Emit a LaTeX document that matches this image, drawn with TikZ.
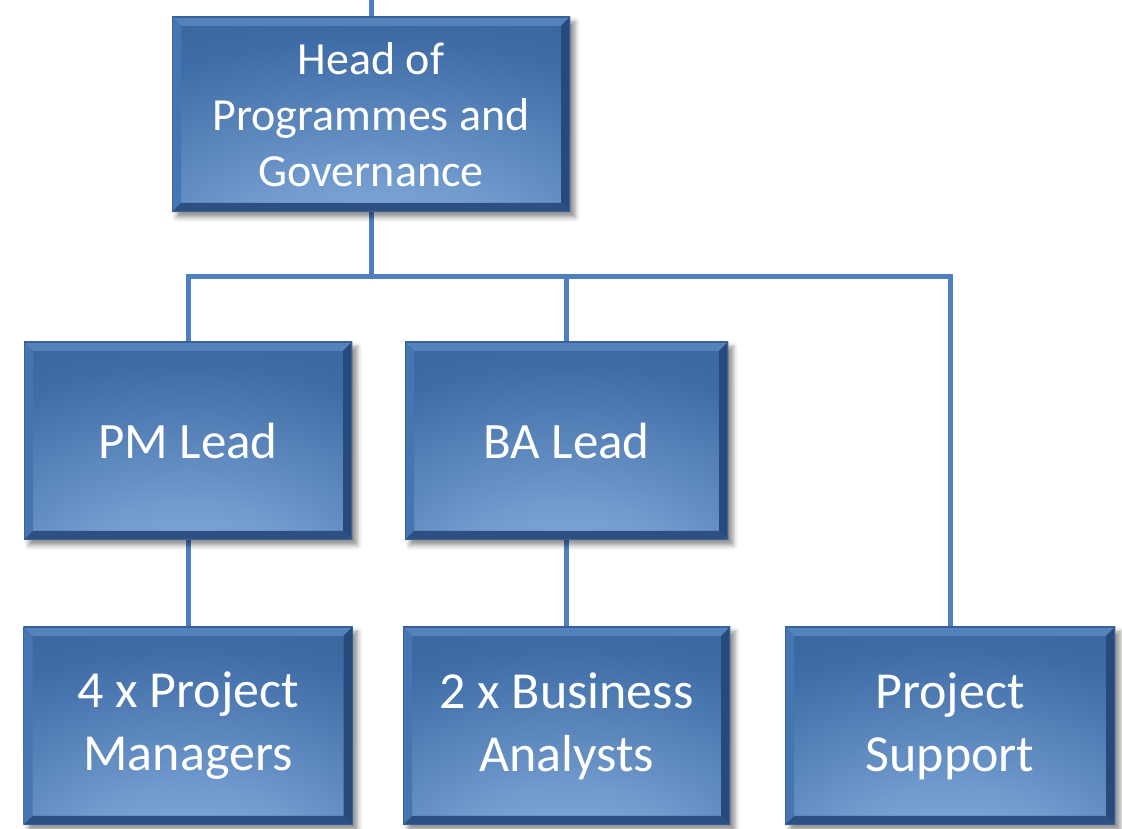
\documentclass[tikz,border=0pt]{standalone}
\usepackage{fontspec}
\setmainfont{Carlito}
\usetikzlibrary{shadows.blur,backgrounds}
\definecolor{boxbase}{HTML}{3E6CA6}
\definecolor{boxglow}{HTML}{92B8E6}
\definecolor{boxdark}{HTML}{355D92}
\definecolor{bevtop}{HTML}{5482BD}
\definecolor{bevleft}{HTML}{4676B2}
\definecolor{bevright}{HTML}{284A78}
\definecolor{bevbot}{HTML}{2C5082}
\definecolor{boxedge}{HTML}{36619A}
\definecolor{linkc}{HTML}{4F7FBE}
\pgfdeclareradialshading{boxglowshade}{\pgfpoint{0bp}{-44bp}}{color(0bp)=(boxglow); color(18bp)=(boxglow!65!boxbase); color(44bp)=(boxbase); color(66bp)=(boxdark); color(100bp)=(boxdark)}
\tikzset{
  orgbox/.style={rectangle, inner sep=0pt, align=center, text=white,
    blur shadow={shadow xshift=5pt, shadow yshift=-5pt, shadow blur radius=5pt, shadow opacity=45},
    path picture={
      \shade[shading=boxglowshade] (path picture bounding box.south west) rectangle (path picture bounding box.north east);
      \fill[bevtop] (path picture bounding box.north west) -- (path picture bounding box.north east)
        -- ([shift={(-9pt,-9pt)}]path picture bounding box.north east) -- ([shift={(9pt,-9pt)}]path picture bounding box.north west) -- cycle;
      \fill[bevleft] (path picture bounding box.north west) -- (path picture bounding box.south west)
        -- ([shift={(9pt,9pt)}]path picture bounding box.south west) -- ([shift={(9pt,-9pt)}]path picture bounding box.north west) -- cycle;
      \fill[bevright] (path picture bounding box.north east) -- (path picture bounding box.south east)
        -- ([shift={(-9pt,9pt)}]path picture bounding box.south east) -- ([shift={(-9pt,-9pt)}]path picture bounding box.north east) -- cycle;
      \fill[bevbot] (path picture bounding box.south west) -- (path picture bounding box.south east)
        -- ([shift={(-9pt,9pt)}]path picture bounding box.south east) -- ([shift={(9pt,9pt)}]path picture bounding box.south west) -- cycle;
      \draw[boxedge, line width=1.5pt] (path picture bounding box.south west) rectangle (path picture bounding box.north east);
    }},
  topfont/.style={font=\fontsize{46}{56}\selectfont},
  midfont/.style={font=\fontsize{51}{62}\selectfont},
  botfont/.style={font=\fontsize{52}{63}\selectfont},
  link/.style={draw=linkc, line width=5pt}
}
\begin{document}
\begin{tikzpicture}[x=1pt,y=1pt]
\useasboundingbox (0,0) rectangle (1122,829);
\node[orgbox, topfont, minimum width=398pt, minimum height=195pt] (head) at (371,714.5) {Head of\\Programmes and\\Governance};
\node[orgbox, midfont, minimum width=328pt, minimum height=198pt] (pm) at (188,388) {PM Lead};
\node[orgbox, midfont, minimum width=323pt, minimum height=198pt] (ba) at (566.5,388) {BA Lead};
\node[orgbox, botfont, minimum width=329pt, minimum height=198pt] (pmx) at (188,103) {4 x Project\\Managers};
\node[orgbox, botfont, minimum width=327pt, minimum height=198pt] (bax) at (566.5,103) {2 x Business\\Analysts};
\node[orgbox, botfont, minimum width=330pt, minimum height=198pt] (ps) at (950,103) {Project\\Support};
\coordinate (up) at (371,829);
\coordinate (bus) at (371,552);
\begin{scope}[on background layer]
\draw[link] (up) -- (head.north);
\draw[link] (head.south) -- (bus);
\draw[link] (pm.north) |- (bus) -| (ps.north);
\draw[link] (bus) -| (ba.north);
\draw[link] (pm.south) -- (pmx.north);
\draw[link] (ba.south) -- (bax.north);
\end{scope}
\end{tikzpicture}
\end{document}
